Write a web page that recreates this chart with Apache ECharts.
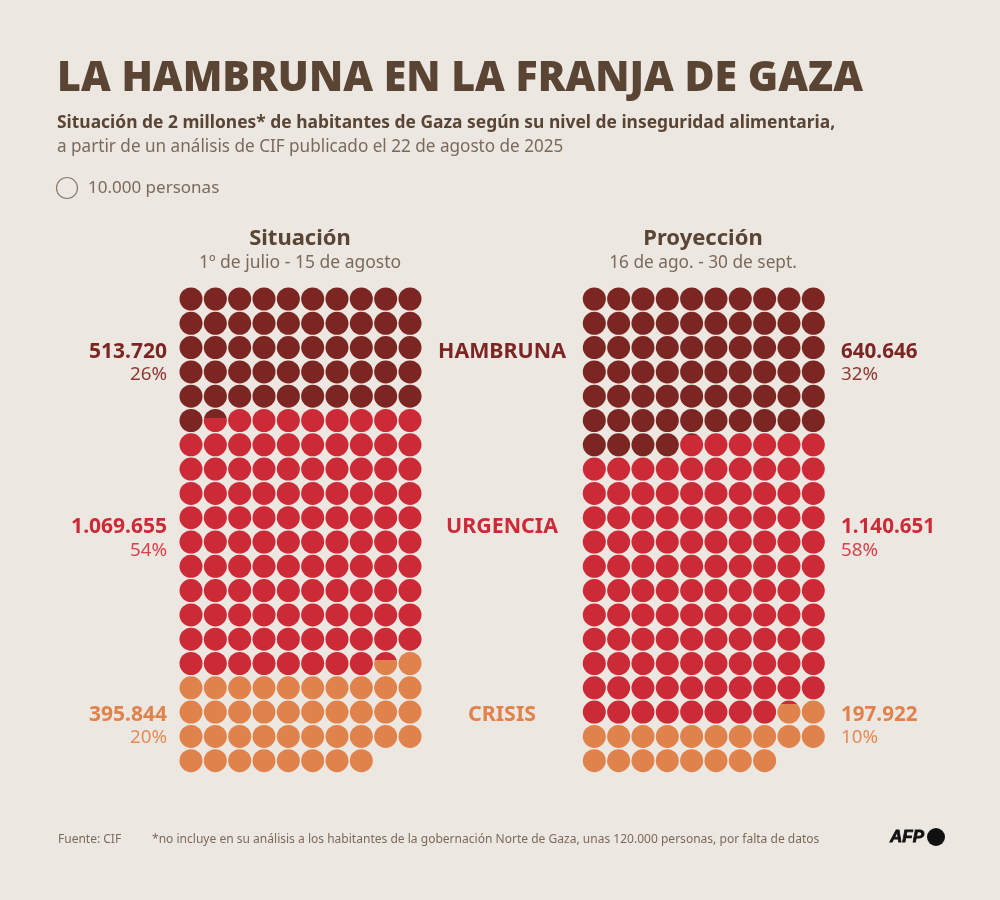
<!DOCTYPE html>
<html><head><meta charset="utf-8">
<style>html,body{margin:0;padding:0;background:#ece7e1}#c{width:1000px;height:900px}</style>
<script src="https://cdn.jsdelivr.net/npm/echarts@6/dist/echarts.min.js"></script>
</head><body><div id="c"></div>
<script>
// Data
const levels = ['HAMBRUNA','URGENCIA','CRISIS'];
const situacion = [513720,1069655,395844];
const proyeccion = [640646,1140651,197922];
const situacionPct = ['26%','54%','20%'];
const proyeccionPct = ['32%','58%','10%'];
const situacionLabels = ['513.720','1.069.655','395.844'];
const proyeccionLabels = ['640.646','1.140.651','197.922'];
const personsPerDot = 10000;
const dotsPerRow = 10;

const COL = ['#7c2623','#cd2a38','#e0824c'];
const PCT = ['#8f3a36','#d9434e','#e58c58'];
const BG = '#ece7e1', INK = '#5a4535', SOFT = '#7a6a5c';
const FONT = '"Noto Sans"';

// Walk through the dots and split each into the shares of the levels it holds
function dots(values){
  const total = values.reduce((a,b)=>a+b,0) / personsPerDot;
  const n = Math.ceil(total), bounds = []; let acc = 0;
  values.forEach(v=>{acc += v/personsPerDot; bounds.push(acc);});
  const out = [];
  for(let i=0;i<n;i++){
    let lvl = bounds.findIndex(b=>b>i);
    let color = COL[lvl];
    const b = bounds[lvl];
    if(lvl<2 && b < i+1 && b > i){
      const f = b-i;
      color = {type:'linear',x:0,y:0,x2:0,y2:1,colorStops:[
        {offset:0,color:COL[lvl]},{offset:f,color:COL[lvl]},
        {offset:f,color:COL[lvl+1]},{offset:1,color:COL[lvl+1]}]};
    }
    out.push({value:[i%dotsPerRow,Math.floor(i/dotsPerRow)],itemStyle:{color,opacity:1}});
  }
  return out;
}
function scat(idx,values){
  return {type:'scatter',xAxisIndex:idx,yAxisIndex:idx,symbol:'circle',symbolSize:23,silent:true,itemStyle:{opacity:1},data:dots(values)};
}
function xa(i){return {type:'value',gridIndex:i,min:0,max:9,show:false};}
function ya(i){return {type:'value',gridIndex:i,min:0,max:19,inverse:true,show:false};}

function t(text,x,y,size,weight,fill,align,sx){
  return {type:'text',x,y:y+2,scaleX:sx||1,originX:0,originY:0,style:{text,font:`${weight} ${size}px ${FONT}`,fill,align:align||'left',verticalAlign:'middle'}};
}
const g = [];
g.push(t('LA HAMBRUNA EN LA FRANJA DE GAZA',57,77,43,900,INK,'left',0.955));
g.push(t('Situación de 2 millones* de habitantes de Gaza según su nivel de inseguridad alimentaria,',57,121,18,700,INK,'left',0.967));
g.push(t('a partir de un análisis de CIF publicado el 22 de agosto de 2025',57,145,18,400,SOFT,'left',0.951));
g.push({type:'circle',shape:{cx:67,cy:188,r:10.5},style:{fill:'none',stroke:'#8a7c70',lineWidth:1.2}});
g.push(t('10.000 personas',88,186,17,400,SOFT));
g.push(t('Situación',300,237,22,700,INK,'center'));
g.push(t('1º de julio - 15 de agosto',300,261,17.5,400,SOFT,'center'));
g.push(t('Proyección',703,237,22,700,INK,'center'));
g.push(t('16 de ago. - 30 de sept.',703,261,17.3,400,SOFT,'center'));
const rowsY = [[350,372.5],[525,548.5],[713,735.5]];
levels.forEach((name,i)=>{
  g.push(t(name,502,rowsY[i][0],21.4,700,COL[i],'center'));
  g.push(t(situacionLabels[i],167,rowsY[i][0],21,700,COL[i],'right'));
  g.push(t(situacionPct[i],167,rowsY[i][1],18.8,400,PCT[i],'right'));
  g.push(t(proyeccionLabels[i],841,rowsY[i][0],20.6,700,COL[i]));
  g.push(t(proyeccionPct[i],841,rowsY[i][1],18.8,400,PCT[i]));
});
g.push(t('Fuente: CIF',58,838,12,400,SOFT));
g.push(t('*no incluye en su análisis a los habitantes de la gobernación Norte de Gaza, unas 120.000 personas, por falta de datos',152,838,12,400,SOFT,'left',1.003));
g.push({type:'text',x:890,y:837,style:{text:'AFP',font:'italic 900 17px "Liberation Sans"',fill:'#111',stroke:'#111',lineWidth:0.8,verticalAlign:'middle'}});
g.push({type:'circle',shape:{cx:936,cy:837,r:9},style:{fill:'#111'}});

const chart = echarts.init(document.getElementById('c'),null,{renderer:'canvas'});
chart.setOption({
  animation:false,
  backgroundColor:BG,
  grid:[{left:191,top:299,width:219,height:461.7},{left:594.3,top:299,width:219,height:461.7}],
  xAxis:[xa(0),xa(1)],
  yAxis:[ya(0),ya(1)],
  series:[scat(0,situacion),scat(1,proyeccion)],
  graphic:{elements:g}
});
</script></body></html>
